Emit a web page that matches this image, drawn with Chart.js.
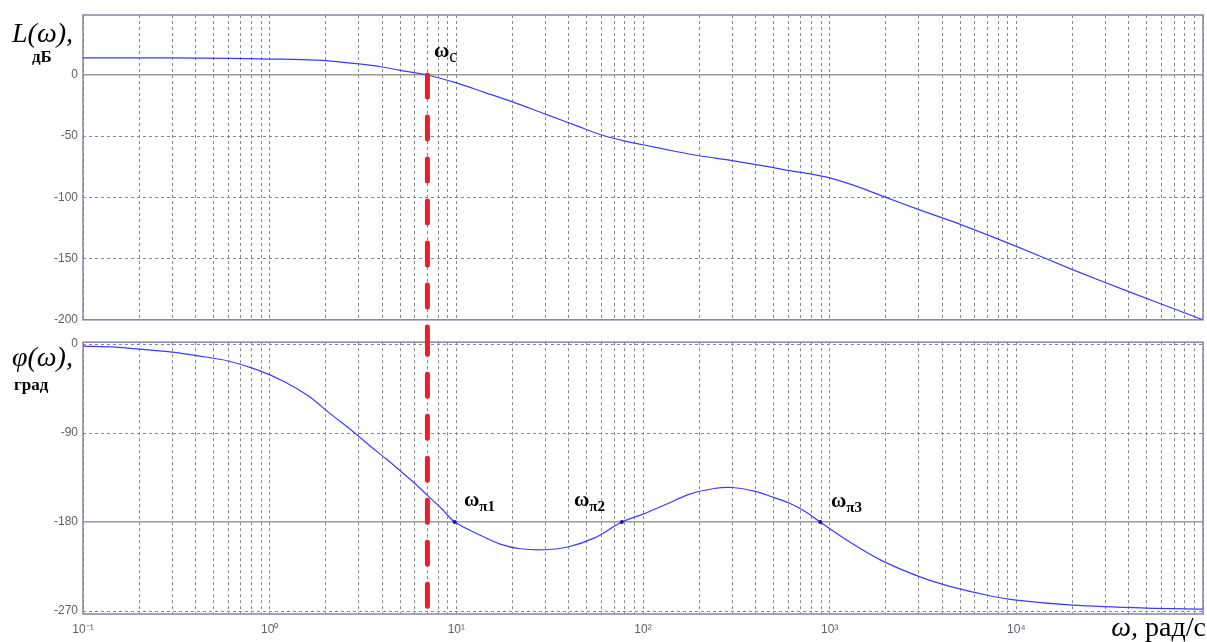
<!DOCTYPE html>
<html>
<head>
<meta charset="utf-8">
<script src="https://cdn.jsdelivr.net/npm/chart.js@4/dist/chart.umd.min.js"></script>
<style>
  body { margin: 0; background: #fff; width: 1207px; height: 642px; overflow: hidden; position: relative; }
  canvas { position: absolute; left: 0; }
  #gain-canvas { top: 0; }
  #phase-canvas { top: 330px; }
  .lbl { position: absolute; font-family: 'Liberation Serif', serif; color: #000; white-space: nowrap; z-index: 2; }
  .big { font-size: 28px; line-height: 28px; font-style: italic; }
  .unit { font-size: 17px; line-height: 17px; font-weight: bold; }
  .w { font-size: 21px; line-height: 20px; font-weight: bold; }
  .w sub { font-size: 15px; vertical-align: -5px; }
  .w sub.c { font-weight: normal; font-size: 18px; }
</style>
</head>
<body>
<canvas id="gain-canvas" width="1207" height="332"></canvas>
<canvas id="phase-canvas" width="1207" height="312"></canvas>

<div class="lbl big" style="left:12px; top:19px;">L(ω),</div>
<div class="lbl unit" style="left:32px; top:48px;">дБ</div>
<div class="lbl big" style="left:12px; top:343px;">φ(ω),</div>
<div class="lbl unit" style="left:14px; top:376px;">град</div>
<div class="lbl big" style="right:1px; top:613px;">ω,<span style="font-style:normal;"> рад/с</span></div>
<div class="lbl w" style="left:434px; top:40px;">ω<sub class="c">c</sub></div>
<div class="lbl w" style="left:464px; top:489px;">ω<sub>π1</sub></div>
<div class="lbl w" style="left:574px; top:489px;">ω<sub>π2</sub></div>
<div class="lbl w" style="left:831px; top:490px;">ω<sub>π3</sub></div>

<script>
/* -------------  DATA  ------------- */

// magnitude curve L(w), dB
const freqL = [0.1, 0.3, 0.6, 1, 1.5, 2, 3, 4, 5, 7, 10, 14, 20, 30, 45, 60, 80, 100, 150, 200, 300, 450, 600, 800, 1000, 1400, 2000, 3000, 5000, 1e4, 2e4, 4e4, 1e5];
const gainDb = [14, 14, 13.6, 13, 12.6, 11.8, 9, 6.5, 3.8, 0, -6.5, -14, -22, -32, -42, -49, -54, -57, -62.5, -66, -70, -74.5, -78, -81, -84, -91, -100, -110, -122, -140, -159, -177, -200];

// phase curve phi(w), deg
const freqPhi = [0.1, 0.15, 0.2, 0.3, 0.42, 0.6, 0.86, 1.2, 1.6, 2.1, 2.7, 3.4, 4.2, 5, 6, 7, 8.4, 9.8, 13, 17, 22, 30, 40, 55, 77, 100, 133, 176, 240, 300, 400, 500, 610, 750, 890, 1300, 1900, 3100, 4400, 7000, 1e4, 2e4, 5e4, 1e5];
const phaseDeg = [-2, -3, -5, -8, -12, -17, -26, -38, -52, -70, -86, -102, -116, -128, -141, -153, -167, -180, -192, -202, -207, -208, -205, -196, -180, -172, -162, -152, -146, -145, -149, -155, -161, -170, -180, -201, -219, -236, -245, -254, -259, -264, -267, -268];

// crossover frequency and -180 crossings
const omegaC = 7;
const omegaPi = [9.8, 77, 890];

// ticks
const gainTicks = [-200, -150, -100, -50, 0];
const phaseTicks = [-270, -180, -90, 0];
const xMajor = [0.1, 1, 10, 100, 1000, 10000];
const xTickLabels = ['10⁻¹', '10⁰', '10¹', '10²', '10³', '10⁴'];

/* -------------  HELPERS  ------------- */

const xGridValues = [];
xMajor.forEach((d) => {
  for (let m = 1; m <= 9; m++) xGridValues.push(m * d);
});
xGridValues.push(1e5);

const GRID = '#868694';
const REF = '#9a9a9a';
const FRAME = '#8585a8';
const BLUE = '#3b3bff';
const RED = '#e8202a';

/**
 * Draws the box around the plot area (like matlab axes).
 */
const framePlugin = {
  id: 'frame',
  beforeDatasetsDraw(chart) {
    const { ctx, chartArea: a } = chart;
    ctx.save();
    ctx.strokeStyle = FRAME;
    ctx.lineWidth = 1.5;
    ctx.strokeRect(a.left, a.top, a.right - a.left, a.bottom - a.top);
    ctx.restore();
  },
};

function toPoints(xs, ys) {
  return xs.map((x, i) => ({ x: x, y: ys[i] }));
}

/**
 * Builds the x-axis config, shared by both panels.
 * @param {boolean} showLabels - true for the lower panel
 */
function xAxis(showLabels) {
  return {
    type: 'logarithmic',
    min: 0.1,
    max: 1e5,
    afterBuildTicks: (scale) => {
      scale.ticks = xGridValues.map((v) => ({ value: v }));
    },
    afterFit: (scale) => {
      scale.height = showLabels ? 28 : 0;
      scale.paddingLeft = 0;
      scale.paddingRight = 0;
    },
    grid: { color: GRID, lineWidth: 1, drawTicks: false },
    border: { display: false, dash: [3, 3] },
    ticks: {
      display: showLabels,
      autoSkip: false,
      maxRotation: 0,
      padding: 8,
      color: '#606070',
      font: { family: 'Liberation Sans', size: 12 },
      callback: (v) => {
        const i = xMajor.indexOf(v);
        return i >= 0 ? xTickLabels[i] : '';
      },
    },
  };
}

/**
 * Builds the y-axis config.
 */
function yAxis(min, max, ticks, refValue) {
  return {
    min: min,
    max: max,
    afterBuildTicks: (scale) => {
      scale.ticks = ticks.map((v) => ({ value: v }));
    },
    afterFit: (scale) => {
      scale.width = 83;
    },
    grid: {
      color: (ctx) => (ctx.tick && ctx.tick.value === refValue ? REF : GRID),
      lineWidth: (ctx) => (ctx.tick && ctx.tick.value === refValue ? 1.5 : 1),
      drawTicks: false,
    },
    border: {
      display: false,
      dash: (ctx) => (ctx.tick && ctx.tick.value === refValue ? [] : [3, 3]),
    },
    ticks: {
      padding: 5,
      color: '#606070',
      font: { family: 'Liberation Sans', size: 12 },
      callback: (v) => String(v),
    },
  };
}

function redLine(yFrom, yTo) {
  return {
    data: [{ x: omegaC, y: yFrom }, { x: omegaC, y: yTo }],
    borderColor: RED,
    borderWidth: 5,
    borderDash: [22, 20],
    borderCapStyle: 'round',
    pointRadius: 0,
    clip: false,
  };
}

const commonOptions = {
  responsive: false,
  animation: false,
  events: [],
  plugins: { legend: { display: false }, tooltip: { enabled: false } },
};

/* -------------  GAIN CHART  ------------- */

new Chart(document.getElementById('gain-canvas'), {
  type: 'line',
  data: {
    datasets: [
      redLine(0, -215),
      {
        data: [{ x: omegaC, y: 0 }],
        showLine: false,
        pointRadius: 2,
        pointStyle: 'rect',
        pointBackgroundColor: '#1010c0',
        pointBorderWidth: 0,
      },
      {
        data: toPoints(freqL, gainDb),
        borderColor: BLUE,
        borderWidth: 1.2,
        pointRadius: 0,
        tension: 0.3,
      },
    ],
  },
  options: {
    ...commonOptions,
    layout: { padding: { left: 0, right: 2, top: 15, bottom: 8 } },
    scales: {
      x: xAxis(false),
      y: yAxis(-200, 49, gainTicks, 0),
    },
  },
  plugins: [framePlugin],
});

/* -------------  PHASE CHART  ------------- */

new Chart(document.getElementById('phase-canvas'), {
  type: 'line',
  data: {
    datasets: [
      redLine(12, -276),
      {
        data: omegaPi.map((w) => ({ x: w, y: -180 })),
        showLine: false,
        pointRadius: 2,
        pointBackgroundColor: '#1010c0',
        pointBorderWidth: 0,
      },
      {
        data: toPoints(freqPhi, phaseDeg),
        borderColor: BLUE,
        borderWidth: 1.2,
        pointRadius: 0,
        tension: 0.3,
      },
    ],
  },
  options: {
    ...commonOptions,
    layout: { padding: { left: 0, right: 2, top: 9, bottom: 0 } },
    scales: {
      x: xAxis(true),
      y: yAxis(-273, 2, phaseTicks, -180),
    },
  },
  plugins: [framePlugin],
});
</script>
</body>
</html>
